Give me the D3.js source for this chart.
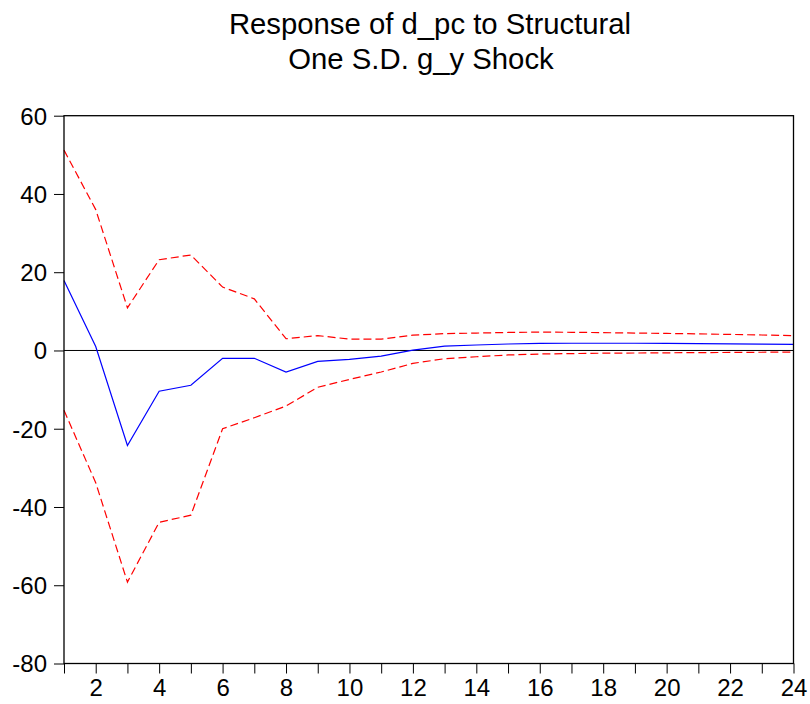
<!DOCTYPE html>
<html>
<head>
<meta charset="utf-8">
<script src="https://cdn.jsdelivr.net/npm/d3@7"></script>
<style>
  html, body { margin: 0; padding: 0; background: #fff; }
  svg { display: block; }
  text { font-family: "Liberation Sans", Arial, sans-serif; fill: #000; }
</style>
</head>
<body>
<svg id="chart" width="810" height="704"></svg>
<script>
const titleLines = ["Response of d_pc to Structural", "One S.D. g_y Shock"];
const periods = d3.range(1, 25);
const response = [17.9, 1.0, -24.3, -10.4, -8.9, -2.0, -2.0, -5.5, -2.8, -2.3, -1.45, 0.1,
                  1.1, 1.4, 1.65, 1.8, 1.85, 1.85, 1.85, 1.8, 1.75, 1.7, 1.6, 1.55];
const upper = [51.2, 36.0, 10.9, 23.2, 24.4, 16.2, 13.2, 3.0, 3.8, 2.9, 2.9, 3.9,
               4.3, 4.45, 4.6, 4.7, 4.65, 4.55, 4.45, 4.35, 4.25, 4.1, 3.95, 3.8];
const lower = [-15.3, -33.8, -59.2, -43.9, -42.1, -20.0, -17.2, -14.2, -9.4, -7.4, -5.5, -3.3,
               -2.1, -1.6, -1.15, -0.9, -0.8, -0.7, -0.65, -0.6, -0.55, -0.5, -0.45, -0.4];
const yTicks = [-80, -60, -40, -20, 0, 20, 40, 60];
const xLabelTicks = [2, 4, 6, 8, 10, 12, 14, 16, 18, 20, 22, 24];

const svg = d3.select("#chart");
const L = 64, R = 793.5, T = 115.7, B = 663.5;

const x = d3.scaleLinear().domain([1, 24]).range([L, R]);
const y = d3.scaleLinear().domain([-80, 60]).range([B, T]);

// title
svg.append("text").attr("x", 430).attr("y", 34.3).attr("text-anchor", "middle")
  .style("font-size", "29.3px").text(titleLines[0]);
svg.append("text").attr("x", 421).attr("y", 69).attr("text-anchor", "middle")
  .style("font-size", "29.3px").text(titleLines[1]);

// y axis
const yAxis = d3.axisLeft(y).tickValues(yTicks).tickSize(10).tickPadding(7).tickFormat(d => String(d));
const gy = svg.append("g").attr("transform", `translate(${L},0)`).call(yAxis);
gy.select(".domain").remove();
gy.selectAll(".tick line").attr("stroke", "#000");
gy.selectAll(".tick text").style("font-size", "24px").attr("font-family", null).attr("dy", "0.35em");

// x axis: ticks at every period, labels at even periods
const xAxis = d3.axisBottom(x).tickValues(periods).tickSize(10).tickPadding(5)
  .tickFormat(d => xLabelTicks.includes(d) ? String(d) : "");
const gx = svg.append("g").attr("transform", `translate(0,${B})`).call(xAxis);
gx.select(".domain").remove();
gx.selectAll(".tick line").attr("stroke", "#000");
gx.selectAll(".tick text").style("font-size", "24px").attr("font-family", null);

// zero line
svg.append("line").attr("x1", L).attr("x2", R).attr("y1", y(0)).attr("y2", y(0))
  .attr("stroke", "#000").attr("stroke-width", 1);

const line = d3.line().x((d, i) => x(periods[i])).y(d => y(d));

svg.append("path").datum(upper).attr("d", line).attr("fill", "none")
  .attr("stroke", "#ff0000").attr("stroke-width", 1.2).attr("stroke-dasharray", "8,4");
svg.append("path").datum(lower).attr("d", line).attr("fill", "none")
  .attr("stroke", "#ff0000").attr("stroke-width", 1.2).attr("stroke-dasharray", "8,4");
svg.append("path").datum(response).attr("d", line).attr("fill", "none")
  .attr("stroke", "#0000ff").attr("stroke-width", 1.2);

// frame
svg.append("rect").attr("x", L).attr("y", T).attr("width", R - L).attr("height", B - T)
  .attr("fill", "none").attr("stroke", "#000").attr("stroke-width", 1.3);
</script>
</body>
</html>
